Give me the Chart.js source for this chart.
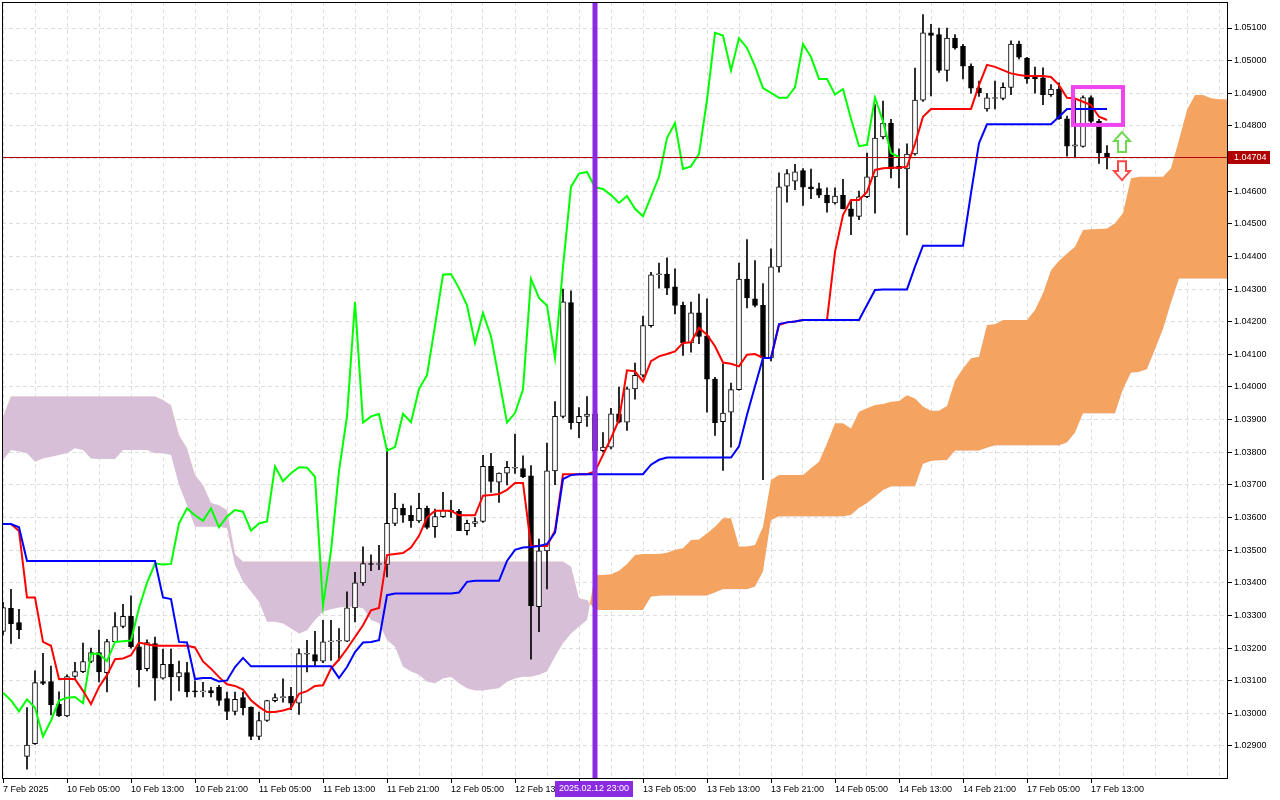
<!DOCTYPE html>
<html>
<head>
<meta charset="utf-8">
<title>EURUSD H1 Ichimoku</title>
<script src="https://cdn.jsdelivr.net/npm/chart.js@4.4.1/dist/chart.umd.min.js"></script>
<style>
  html, body { margin: 0; padding: 0; background: #fff; overflow: hidden; }
  canvas { display: block; }
</style>
</head>
<body>
<canvas id="chart" width="1280" height="800"></canvas>
<script>
// Hourly candles, bar 0 = 7 Feb 21:00, bar 138 = 17 Feb 15:00
const opens = [
  1.03251, 1.03322, 1.03278, 1.02868, 1.02907, 1.03097, 1.03097, 1.03028, 1.02992, 1.03113,
  1.03128, 1.03159, 1.03186, 1.03125, 1.0322, 1.03266, 1.03297, 1.03204, 1.03137, 1.03214,
  1.03108, 1.0315, 1.03112, 1.03125, 1.03068, 1.03066, 1.0307, 1.0308, 1.03045, 1.03006,
  1.03048, 1.03019, 1.02929, 1.02978, 1.03039, 1.03048, 1.03052, 1.03031, 1.03181, 1.0318,
  1.0316, 1.03219, 1.03221, 1.03221, 1.03323, 1.034, 1.03457, 1.03456, 1.03456, 1.03582,
  1.03628, 1.03607, 1.0359, 1.03628, 1.03572, 1.03603, 1.03623, 1.03619, 1.0356, 1.03582,
  1.03588, 1.03757, 1.03708, 1.03736, 1.03751, 1.0375, 1.03728, 1.03327, 1.03498, 1.03743,
  1.0391, 1.04259, 1.03891, 1.0391, 1.03917, 1.03805, 1.03816, 1.03918, 1.03892, 1.03994,
  1.04036, 1.04188, 1.04344, 1.04346, 1.04307, 1.0425, 1.04135, 1.04227, 1.04157, 1.04024,
  1.03894, 1.03923, 1.03992, 1.04331, 1.0427, 1.0425, 1.04089, 1.04368, 1.04615, 1.04631,
  1.04663, 1.04613, 1.04608, 1.04588, 1.04564, 1.04587, 1.04546, 1.04523, 1.04583, 1.04644,
  1.04766, 1.04809, 1.04668, 1.04668, 1.04714, 1.04879, 1.05085, 1.0508, 1.0497, 1.05069,
  1.05044, 1.04983, 1.04916, 1.04852, 1.04884, 1.04884, 1.04918, 1.05051, 1.05008, 1.0495,
  1.04947, 1.04896, 1.04913, 1.04822, 1.04738, 1.04737, 1.04887, 1.04814, 1.04717
];
const highs = [
  1.0334, 1.0338, 1.03319, 1.03018, 1.0313, 1.03184, 1.03145, 1.03066, 1.03118, 1.03156,
  1.03215, 1.032, 1.03255, 1.03227, 1.03309, 1.03334, 1.0336, 1.03266, 1.03225, 1.03234,
  1.03197, 1.03197, 1.0316, 1.03156, 1.031, 1.03095, 1.0308, 1.03086, 1.03065, 1.03065,
  1.03065, 1.0302, 1.03004, 1.0304, 1.0306, 1.03106, 1.0308, 1.03198, 1.03224, 1.03251,
  1.03285, 1.03285, 1.0326, 1.03372, 1.03432, 1.0351, 1.03486, 1.03515, 1.03812, 1.03674,
  1.03641, 1.03636, 1.03674, 1.03635, 1.03626, 1.03677, 1.03653, 1.03625, 1.03592, 1.036,
  1.03791, 1.03797, 1.03737, 1.03772, 1.03856, 1.03789, 1.03759, 1.03534, 1.03828, 1.03955,
  1.043, 1.04295, 1.03937, 1.03971, 1.0393, 1.0386, 1.03935, 1.04, 1.04, 1.04073,
  1.04217, 1.04351, 1.0438, 1.04396, 1.04362, 1.0426, 1.0426, 1.04285, 1.0427, 1.0403,
  1.04071, 1.04012, 1.0438, 1.04452, 1.04387, 1.04317, 1.04423, 1.04656, 1.04666, 1.04682,
  1.04669, 1.04668, 1.04625, 1.0461, 1.0461, 1.04636, 1.04572, 1.046, 1.04717, 1.04865,
  1.04876, 1.0482, 1.0473, 1.04745, 1.04977, 1.05141, 1.05111, 1.051, 1.051, 1.0508,
  1.0505, 1.0499, 1.04937, 1.049, 1.04937, 1.04932, 1.05061, 1.0506, 1.0501, 1.0498,
  1.04978, 1.04927, 1.04932, 1.0483, 1.0488, 1.04892, 1.04892, 1.0482, 1.0474
];
const lows = [
  1.0324, 1.03214, 1.03229, 1.02829, 1.02905, 1.03088, 1.02995, 1.0299, 1.0299, 1.0311,
  1.03125, 1.03155, 1.03096, 1.03066, 1.03218, 1.03262, 1.032, 1.03081, 1.0313, 1.0304,
  1.03105, 1.0304, 1.03069, 1.0305, 1.0305, 1.0305, 1.0305, 1.03024, 1.02981, 1.02995,
  1.02995, 1.02919, 1.02919, 1.02975, 1.03035, 1.03034, 1.03011, 1.02997, 1.03127, 1.03147,
  1.03155, 1.03162, 1.03162, 1.0322, 1.0328, 1.03392, 1.03437, 1.0344, 1.03418, 1.03575,
  1.03585, 1.0357, 1.03585, 1.03565, 1.03539, 1.036, 1.036, 1.0356, 1.03547, 1.03572,
  1.03585, 1.03677, 1.03646, 1.037, 1.03735, 1.03722, 1.03166, 1.0325, 1.03381, 1.03701,
  1.03905, 1.03871, 1.03845, 1.03879, 1.0379, 1.038, 1.0381, 1.0389, 1.03867, 1.03963,
  1.0403, 1.04183, 1.04303, 1.04283, 1.04224, 1.04097, 1.04107, 1.04133, 1.03923, 1.03852,
  1.03744, 1.03816, 1.0399, 1.04242, 1.04245, 1.03716, 1.0408, 1.04352, 1.04566, 1.04605,
  1.04556, 1.04577, 1.0458, 1.04536, 1.0456, 1.04546, 1.04467, 1.04513, 1.0458, 1.04533,
  1.0476, 1.04641, 1.0461, 1.04466, 1.0471, 1.04875, 1.04892, 1.04964, 1.04937, 1.05035,
  1.04944, 1.049, 1.0489, 1.04845, 1.04852, 1.0488, 1.04896, 1.05005, 1.0493, 1.049,
  1.04865, 1.0489, 1.0482, 1.04707, 1.04706, 1.04735, 1.0481, 1.04685, 1.04668
];
const closes = [
  1.03324, 1.03275, 1.03256, 1.02903, 1.03094, 1.03092, 1.03026, 1.02992, 1.03113, 1.03128,
  1.03159, 1.03186, 1.03127, 1.0322, 1.03266, 1.03297, 1.03204, 1.03133, 1.03217, 1.03108,
  1.0315, 1.03112, 1.03125, 1.03066, 1.03066, 1.03068, 1.03063, 1.0304, 1.03006, 1.03043,
  1.03017, 1.02929, 1.02978, 1.03039, 1.03048, 1.0305, 1.03031, 1.03183, 1.03183, 1.0316,
  1.03219, 1.03221, 1.03223, 1.03323, 1.034, 1.03459, 1.03456, 1.03458, 1.03582, 1.03628,
  1.03607, 1.0359, 1.03628, 1.0357, 1.03603, 1.03623, 1.03618, 1.0356, 1.03582, 1.03588,
  1.03757, 1.03711, 1.03736, 1.03754, 1.03753, 1.03725, 1.0333, 1.03498, 1.03743, 1.0391,
  1.04261, 1.03891, 1.0391, 1.03917, 1.03805, 1.03816, 1.03918, 1.03892, 1.03994, 1.04036,
  1.04188, 1.04344, 1.04346, 1.04303, 1.0425, 1.04135, 1.04227, 1.04155, 1.04024, 1.03891,
  1.0392, 1.03992, 1.04331, 1.04273, 1.0425, 1.04089, 1.04368, 1.04613, 1.04654, 1.04659,
  1.04612, 1.04607, 1.04588, 1.04564, 1.04585, 1.04546, 1.04523, 1.04583, 1.04644, 1.04763,
  1.04809, 1.04668, 1.04676, 1.04714, 1.04879, 1.05085, 1.05077, 1.0497, 1.05069, 1.05039,
  1.04983, 1.04916, 1.04901, 1.04886, 1.04886, 1.04918, 1.05051, 1.05011, 1.04944, 1.04944,
  1.04896, 1.04913, 1.04822, 1.04738, 1.04742, 1.04887, 1.04814, 1.04717, 1.04704
];

// Ichimoku lines
const tenkan = [
  1.0358, 1.0358, 1.03559, 1.03355, 1.03355, 1.03219, 1.03207, 1.03105, 1.03105, 1.03105,
  1.03069, 1.03028, 1.03081, 1.03117, 1.03166, 1.03168, 1.03178, 1.03217, 1.03212, 1.03207,
  1.03207, 1.03207, 1.03207, 1.03207, 1.03202, 1.03159, 1.03137, 1.03111, 1.03089, 1.03084,
  1.03073, 1.0304, 1.0302, 1.03004, 1.03004, 1.03009, 1.03016, 1.0306, 1.03068, 1.03084,
  1.03086, 1.03137, 1.03165, 1.03198, 1.03234, 1.0327, 1.03316, 1.03323, 1.03485, 1.03488,
  1.03491, 1.03508, 1.03544, 1.036, 1.03621, 1.03621, 1.03621, 1.03607, 1.03607, 1.03607,
  1.03667, 1.03669, 1.03672, 1.03685, 1.03706, 1.03706, 1.03513, 1.03513, 1.03513, 1.0356,
  1.03733, 1.03733, 1.03733, 1.03733, 1.03741, 1.03792, 1.03843, 1.039, 1.04051, 1.04048,
  1.04017, 1.04079, 1.04094, 1.04101, 1.04109, 1.04135, 1.04137, 1.04181, 1.0416, 1.04125,
  1.04075, 1.04071, 1.04063, 1.04099, 1.04101, 1.04089, 1.04089, 1.0419, 1.04198, 1.04201,
  1.04205, 1.04205, 1.04205, 1.04205, 1.04414, 1.04527, 1.04573, 1.04573, 1.04598, 1.04665,
  1.0467, 1.04672, 1.04672, 1.04675, 1.04745, 1.04828, 1.04852, 1.04852, 1.04852, 1.04852,
  1.04852, 1.04852, 1.04925, 1.04987, 1.04981, 1.04971, 1.04961, 1.04956, 1.04953, 1.04953,
  1.04953, 1.0495, 1.04925, 1.04886, 1.04884, 1.04874, 1.04864, 1.04828, 1.04818
];
const kijun = [
  1.0358, 1.0358, 1.0357, 1.03467, 1.03467, 1.03467, 1.03467, 1.03467, 1.03467, 1.03467,
  1.03467, 1.03467, 1.03467, 1.03467, 1.03467, 1.03467, 1.03467, 1.03467, 1.03467, 1.03467,
  1.03355, 1.0335, 1.03219, 1.03217, 1.03105, 1.03108, 1.03108, 1.03098, 1.03101, 1.03142,
  1.0317, 1.03144, 1.03144, 1.03144, 1.03144, 1.03144, 1.03144, 1.03144, 1.03144, 1.03144,
  1.03144, 1.03144, 1.03108, 1.03142, 1.03188, 1.03217, 1.03219, 1.03224, 1.03362, 1.03367,
  1.03367, 1.03367, 1.03367, 1.03367, 1.03367, 1.03367, 1.03367, 1.0337, 1.03403, 1.03406,
  1.03406, 1.03406, 1.03406, 1.03467, 1.03501, 1.03508, 1.0351, 1.03513, 1.03519, 1.03554,
  1.03718, 1.0373, 1.03733, 1.03733, 1.03733, 1.03733, 1.03733, 1.03733, 1.03733, 1.03733,
  1.03733, 1.03762, 1.03777, 1.03784, 1.03784, 1.03784, 1.03784, 1.03784, 1.03784, 1.03784,
  1.03784, 1.03784, 1.03818, 1.03915, 1.04002, 1.04089, 1.04089, 1.04193, 1.04198, 1.04201,
  1.04205, 1.04205, 1.04205, 1.04205, 1.04205, 1.04205, 1.04205, 1.04205, 1.04251, 1.04297,
  1.04299, 1.04299, 1.04299, 1.04299, 1.04369, 1.04433, 1.04433, 1.04433, 1.04433, 1.04433,
  1.04433, 1.04594, 1.04747, 1.04805, 1.04805, 1.04805, 1.04805, 1.04805, 1.04805, 1.04805,
  1.04805, 1.04805, 1.04828, 1.04852, 1.04852, 1.04852, 1.04852, 1.04852, 1.04852
];
// cloud, bars 0..153 (runs 15 bars past the last candle)
const spanA = [
  1.03776, 1.03807, 1.03802, 1.03797, 1.03771, 1.03781, 1.03786, 1.03792, 1.03797, 1.03812,
  1.03807, 1.03781, 1.03779, 1.03779, 1.03779, 1.03807, 1.03807, 1.03807, 1.03807, 1.03797,
  1.03797, 1.03792, 1.037, 1.03638, 1.03572, 1.03572, 1.03572, 1.03572, 1.03567, 1.03455,
  1.03404, 1.03373, 1.03342, 1.03281, 1.03281, 1.03275, 1.0326, 1.03245, 1.03255, 1.03286,
  1.03312, 1.03319, 1.03324, 1.03327, 1.03327, 1.03322, 1.03286, 1.03276, 1.03225, 1.03204,
  1.03143, 1.03128, 1.03118, 1.03097, 1.03092, 1.03107, 1.03112, 1.03092, 1.03077, 1.0307,
  1.0307, 1.03074, 1.03077, 1.03097, 1.03107, 1.03112, 1.03112, 1.03118, 1.03128, 1.03174,
  1.03215, 1.03245, 1.03266, 1.03286, 1.03424, 1.03424, 1.03426, 1.03437, 1.03458, 1.03485,
  1.03488, 1.03488, 1.03488, 1.03492, 1.03501, 1.03506, 1.03531, 1.03533, 1.03552, 1.03572,
  1.03598, 1.03598, 1.03511, 1.03511, 1.03516, 1.03572, 1.03715, 1.0373, 1.0373, 1.0373,
  1.0373, 1.03751, 1.03771, 1.03827, 1.03889, 1.03889, 1.03873, 1.03924, 1.03935, 1.03945,
  1.03948, 1.03955, 1.03957, 1.03975, 1.03965, 1.0394, 1.03927, 1.03927, 1.03942, 1.0402,
  1.04057, 1.04088, 1.04093, 1.0419, 1.04192, 1.04205, 1.04205, 1.04205, 1.04205, 1.04236,
  1.04287, 1.04358, 1.04387, 1.04409, 1.0443, 1.04481, 1.04483, 1.04484, 1.04486, 1.04502,
  1.04533, 1.0464, 1.04644, 1.04644, 1.04644, 1.04644, 1.0467, 1.04757, 1.04849, 1.04895,
  1.04895, 1.04885, 1.04882, 1.04882
];
const spanB = [
  1.0391, 1.03972, 1.03972, 1.03972, 1.03972, 1.03972, 1.03972, 1.03972, 1.03972, 1.03972,
  1.03972, 1.03972, 1.03972, 1.03972, 1.03972, 1.03972, 1.03972, 1.03972, 1.03972, 1.03972,
  1.0396, 1.03945, 1.03853, 1.03813, 1.0373, 1.037, 1.03645, 1.03638, 1.03623, 1.03488,
  1.03465, 1.03465, 1.03465, 1.03465, 1.03465, 1.03465, 1.03465, 1.03465, 1.03465, 1.03465,
  1.03465, 1.03465, 1.03465, 1.03465, 1.03465, 1.03465, 1.03465, 1.03465, 1.03465, 1.03465,
  1.03465, 1.03465, 1.03465, 1.03465, 1.03465, 1.03465, 1.03465, 1.03465, 1.03465, 1.03465,
  1.03465, 1.03465, 1.03465, 1.03465, 1.03465, 1.03465, 1.03465, 1.03465, 1.03465, 1.03465,
  1.03465, 1.0345, 1.03353, 1.03347, 1.03317, 1.03317, 1.03317, 1.03317, 1.03317, 1.03317,
  1.03317, 1.03357, 1.0336, 1.0336, 1.0336, 1.0336, 1.0336, 1.0336, 1.0336, 1.0337,
  1.0338, 1.0338, 1.0338, 1.0338, 1.03388, 1.03434, 1.03592, 1.03603, 1.03603, 1.03603,
  1.03603, 1.03603, 1.03603, 1.03603, 1.03603, 1.03603, 1.03608, 1.03629, 1.03644, 1.03664,
  1.03684, 1.03695, 1.03695, 1.03695, 1.03695, 1.03764, 1.03773, 1.03775, 1.03776, 1.03805,
  1.03805, 1.03805, 1.03805, 1.03814, 1.03821, 1.03821, 1.03821, 1.03821, 1.03821, 1.03821,
  1.03821, 1.03821, 1.03821, 1.0383, 1.0386, 1.03919, 1.03919, 1.03919, 1.03919, 1.03919,
  1.03993, 1.04044, 1.04046, 1.04054, 1.04115, 1.04177, 1.04258, 1.04332, 1.04332, 1.04332,
  1.04332, 1.04332, 1.04332, 1.04332
];
const chikouShift = 26;   // lagging span = close plotted 26 bars back

// axes
const priceTicks = [
  1.029, 1.030, 1.031, 1.032, 1.033, 1.034, 1.035, 1.036, 1.037, 1.038, 1.039, 1.040,
  1.041, 1.042, 1.043, 1.044, 1.045, 1.046, 1.047, 1.048, 1.049, 1.050, 1.051
];
const timeTickBars = [0, 8, 16, 24, 32, 40, 48, 56, 64, 72, 80, 88, 96, 104, 112, 120, 128, 136];
const timeTickLabels = [
  '7 Feb 2025', '10 Feb 05:00', '10 Feb 13:00', '10 Feb 21:00', '11 Feb 05:00', '11 Feb 13:00',
  '11 Feb 21:00', '12 Feb 05:00', '12 Feb 13:00', '12 Feb 21:00', '13 Feb 05:00', '13 Feb 13:00',
  '13 Feb 21:00', '14 Feb 05:00', '14 Feb 13:00', '14 Feb 21:00', '17 Feb 05:00', '17 Feb 13:00'
];

// chart objects
const markerBar = 74;
const markerLabel = '2025.02.12 23:00';
const boxBars = [133.75, 140];
const boxPrices = [1.04919, 1.04803];
const arrowUp = { bar: 140, top: 1.04781, bottom: 1.0472 };
const arrowDown = { bar: 140, top: 1.04692, bottom: 1.04634 };

const lastPrice = closes[closes.length - 1];
const FONT = { family: '"Liberation Sans", Arial, sans-serif', size: 9 };

const pts = arr => arr.map((v, i) => ({ x: i, y: v }));
const bodies = opens.map((o, i) => ({ x: i, y: [o, closes[i]] }));
const wicks = lows.map((l, i) => ({ x: i, y: [l, highs[i]] }));
const chikou = closes.slice(chikouShift).map((c, i) => ({ x: i, y: c }));
const gridBars = [];
for (let b = 0; b <= 152; b += 4) gridBars.push(b);
const timeLabel = v => {
  const k = timeTickBars.indexOf(v);
  return k >= 0 ? timeTickLabels[k] : '';
};

function drawArrow(ctx, cx, yTop, yBot, up, color) {
  const hw = 8, sw = 4, head = 9;
  ctx.beginPath();
  if (up) {
    ctx.moveTo(cx, yTop);
    ctx.lineTo(cx + hw, yTop + head);
    ctx.lineTo(cx + sw, yTop + head);
    ctx.lineTo(cx + sw, yBot);
    ctx.lineTo(cx - sw, yBot);
    ctx.lineTo(cx - sw, yTop + head);
    ctx.lineTo(cx - hw, yTop + head);
  } else {
    ctx.moveTo(cx, yBot);
    ctx.lineTo(cx + hw, yBot - head);
    ctx.lineTo(cx + sw, yBot - head);
    ctx.lineTo(cx + sw, yTop);
    ctx.lineTo(cx - sw, yTop);
    ctx.lineTo(cx - sw, yBot - head);
    ctx.lineTo(cx - hw, yBot - head);
  }
  ctx.closePath();
  ctx.fillStyle = '#fff';
  ctx.fill();
  ctx.strokeStyle = color;
  ctx.lineWidth = 2;
  ctx.stroke();
}

const overlay = {
  id: 'overlay',
  afterDatasetsDraw(chart) {
    const { ctx, chartArea: a, scales: { x, y } } = chart;
    ctx.save();
    ctx.beginPath();
    ctx.rect(a.left, a.top, a.width, a.height);
    ctx.clip();

    // bid line
    const py = Math.round(y.getPixelForValue(lastPrice)) + 0.5;
    ctx.strokeStyle = '#b00000';
    ctx.lineWidth = 1;
    ctx.beginPath();
    ctx.moveTo(a.left, py);
    ctx.lineTo(a.right, py);
    ctx.stroke();

    // rectangle object
    const bx1 = x.getPixelForValue(boxBars[0]), bx2 = x.getPixelForValue(boxBars[1]);
    const by1 = y.getPixelForValue(boxPrices[0]), by2 = y.getPixelForValue(boxPrices[1]);
    ctx.strokeStyle = '#f044f0';
    ctx.lineWidth = 4;
    ctx.strokeRect(bx1, by1, bx2 - bx1, by2 - by1);

    // arrows
    drawArrow(ctx, x.getPixelForValue(arrowUp.bar) - 1, y.getPixelForValue(arrowUp.top),
      y.getPixelForValue(arrowUp.bottom), true, '#70d850');
    drawArrow(ctx, x.getPixelForValue(arrowDown.bar) - 1, y.getPixelForValue(arrowDown.top),
      y.getPixelForValue(arrowDown.bottom), false, '#ff4848');
    ctx.restore();

    // vertical line
    const mx = x.getPixelForValue(markerBar);
    ctx.save();
    ctx.fillStyle = '#8a2be2';
    ctx.fillRect(mx - 2.5, a.top, 5, a.bottom - a.top);
    ctx.restore();
  },
  afterDraw(chart) {
    const { ctx, chartArea: a, scales: { x, y } } = chart;
    ctx.save();
    // frame
    ctx.strokeStyle = '#000';
    ctx.lineWidth = 1;
    ctx.strokeRect(a.left + 0.5, a.top + 0.5, a.width - 1, a.height - 1);

    ctx.font = FONT.size + 'px ' + FONT.family;
    ctx.textBaseline = 'middle';

    // price label
    const py = Math.round(y.getPixelForValue(lastPrice));
    ctx.fillStyle = '#b00000';
    ctx.fillRect(a.right, py - 6, 42, 13);
    ctx.fillStyle = '#fff';
    ctx.textAlign = 'left';
    ctx.fillText(lastPrice.toFixed(5), a.right + 6, py + 0.5);

    // time label of the vertical line
    const mx = x.getPixelForValue(markerBar);
    ctx.fillStyle = '#8a2be2';
    ctx.fillRect(mx - 40, a.bottom + 2, 78, 16);
    ctx.fillStyle = '#fff';
    ctx.textAlign = 'center';
    ctx.fillText(markerLabel, mx - 1, a.bottom + 10);
    ctx.restore();
  }
};

new Chart(document.getElementById('chart').getContext('2d'), {
  type: 'bar',
  data: {
    datasets: [
      { type: 'line', label: 'Tenkan-sen', data: pts(tenkan), borderColor: '#ff0000', borderWidth: 2,
        pointRadius: 0, tension: 0, order: 1 },
      { type: 'line', label: 'Kijun-sen', data: pts(kijun), borderColor: '#0000ff', borderWidth: 2,
        pointRadius: 0, tension: 0, order: 0 },
      { type: 'line', label: 'Chikou Span', data: chikou, borderColor: '#00ff00', borderWidth: 2,
        pointRadius: 0, tension: 0, order: 2 },
      { type: 'bar', label: 'body', data: bodies,
        backgroundColor: c => closes[c.dataIndex] >= opens[c.dataIndex] ? '#ffffff' : '#000000',
        borderColor: '#000000', borderWidth: 1, borderSkipped: false,
        barThickness: 5, minBarLength: 1, grouped: false, order: 3 },
      { type: 'bar', label: 'wick', data: wicks, backgroundColor: '#000000',
        barThickness: 1, grouped: false, order: 4 },
      { type: 'line', label: 'Senkou Span A', data: pts(spanA), borderColor: 'rgba(0,0,0,0)', borderWidth: 0,
        pointRadius: 0, tension: 0, order: 5,
        fill: { target: '+1', above: '#f4a460', below: '#d8bfd8' } },
      { type: 'line', label: 'Senkou Span B', data: pts(spanB), borderColor: 'rgba(0,0,0,0)', borderWidth: 0,
        pointRadius: 0, tension: 0, order: 6, fill: false }
    ]
  },
  options: {
    responsive: false,
    animation: false,
    layout: { padding: { left: 2, top: 2, right: 0, bottom: 0 } },
    plugins: { legend: { display: false }, tooltip: { enabled: false } },
    scales: {
      x: {
        type: 'linear',
        min: -0.125,
        max: 153.125,
        offset: false,
        afterBuildTicks: s => { s.ticks = gridBars.map(v => ({ value: v })); },
        afterFit: s => { s.height = 21; s.paddingLeft = 0; s.paddingRight = 0; },
        grid: {
          color: '#dedede', offset: false, drawTicks: true, tickLength: 4, tickBorderDash: [],
          tickColor: c => (c.tick && timeLabel(c.tick.value)) ? '#000' : 'rgba(0,0,0,0)'
        },
        border: { display: false, dash: [4, 3] },
        ticks: {
          autoSkip: false, maxRotation: 0, minRotation: 0, align: 'start', padding: 1,
          color: '#000', font: FONT, callback: v => timeLabel(v)
        }
      },
      y: {
        type: 'linear',
        position: 'right',
        min: 1.0279886,
        max: 1.0517967,
        beginAtZero: false,
        afterBuildTicks: s => { s.ticks = priceTicks.map(v => ({ value: v })); },
        afterFit: s => { s.width = 52; s.paddingTop = 0; s.paddingBottom = 0; },
        grid: { color: '#dedede', tickLength: 4, tickColor: '#000', tickBorderDash: [] },
        border: { display: false, dash: [4, 3] },
        ticks: { autoSkip: false, padding: 2, color: '#000', font: FONT, callback: v => v.toFixed(5) }
      }
    }
  },
  plugins: [overlay]
});
</script>
</body>
</html>
